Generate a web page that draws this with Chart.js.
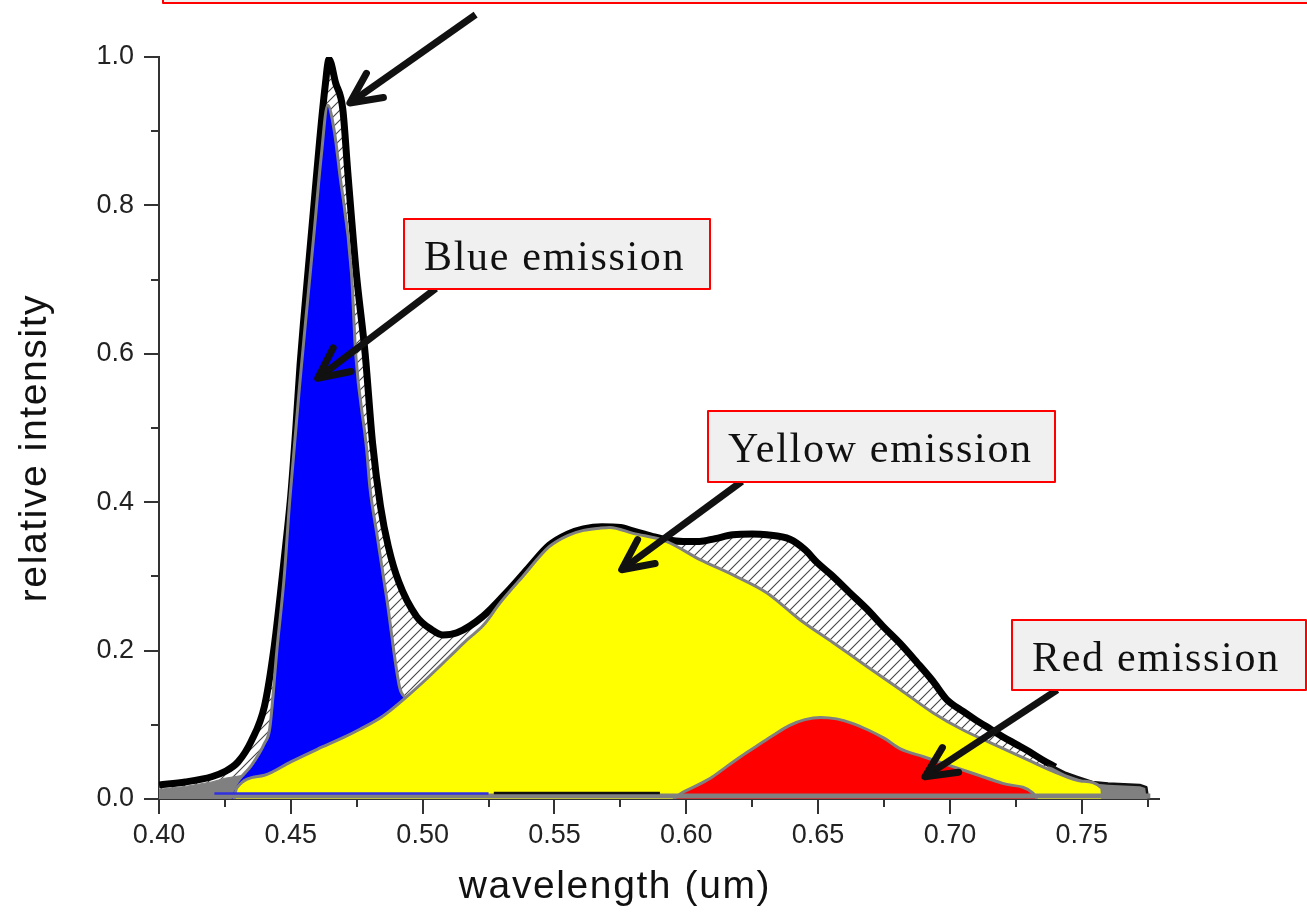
<!DOCTYPE html>
<html>
<head>
<meta charset="utf-8">
<title>Emission spectrum</title>
<script src="https://cdn.jsdelivr.net/npm/chart.js@4.4.1/dist/chart.umd.min.js"></script>
<style>
  html, body { margin: 0; padding: 0; background: #fff; }
  #spectrum { display: block; }
</style>
</head>
<body>
<canvas id="spectrum" width="1307" height="915"></canvas>
<script>
// axis ticks
const xTickValues = [0.40, 0.45, 0.50, 0.55, 0.60, 0.65, 0.70, 0.75];
const xMinorValues = [0.425, 0.475, 0.525, 0.575, 0.625, 0.675, 0.725, 0.775];
const yTickValues = [0.0, 0.2, 0.4, 0.6, 0.8, 1.0];
const yMinorValues = [0.1, 0.3, 0.5, 0.7, 0.9];

// measured spectrum (thick black)
const totalWl = [0.400, 0.410, 0.420, 0.425, 0.430, 0.435, 0.440, 0.4435, 0.446, 0.448, 0.450, 0.452, 0.4535, 0.455, 0.457, 0.459, 0.461, 0.463, 0.4645, 0.467, 0.4697, 0.4716, 0.4748, 0.4782, 0.481, 0.484, 0.487, 0.491, 0.4977, 0.5035, 0.5077, 0.513, 0.5228, 0.533, 0.540, 0.548, 0.555, 0.561, 0.568, 0.575, 0.580, 0.587, 0.593, 0.5988, 0.605, 0.611, 0.6177, 0.625, 0.6305, 0.6393, 0.645, 0.6495, 0.655, 0.662, 0.6685, 0.6748, 0.681, 0.6875, 0.6935, 0.6988, 0.705, 0.710, 0.715, 0.720, 0.725, 0.730, 0.735, 0.740];
const totalInt = [0.019, 0.023, 0.030, 0.037, 0.050, 0.078, 0.125, 0.200, 0.275, 0.340, 0.410, 0.505, 0.585, 0.650, 0.730, 0.810, 0.890, 0.960, 0.997, 0.965, 0.930, 0.845, 0.710, 0.600, 0.480, 0.395, 0.340, 0.292, 0.246, 0.228, 0.221, 0.224, 0.246, 0.283, 0.311, 0.342, 0.357, 0.364, 0.367, 0.366, 0.361, 0.354, 0.349, 0.347, 0.347, 0.351, 0.356, 0.357, 0.356, 0.350, 0.336, 0.319, 0.302, 0.278, 0.256, 0.232, 0.210, 0.184, 0.159, 0.134, 0.118, 0.106, 0.095, 0.084, 0.074, 0.064, 0.053, 0.043];

// blue peak, stacked on the yellow band
const blueWl = [0.4275, 0.4295, 0.435, 0.440, 0.442, 0.4447, 0.4475, 0.4496, 0.4534, 0.4564, 0.459, 0.4615, 0.464, 0.4665, 0.4685, 0.473, 0.4746, 0.4788, 0.480, 0.4826, 0.4864, 0.4913, 0.4935];
const blueTop = [0.008, 0.022, 0.045, 0.075, 0.095, 0.200, 0.300, 0.403, 0.560, 0.673, 0.770, 0.865, 0.935, 0.900, 0.844, 0.709, 0.600, 0.470, 0.420, 0.358, 0.270, 0.150, 0.136];

// yellow band
const yellowWl = [0.4285, 0.4295, 0.440, 0.450, 0.460, 0.470, 0.4762, 0.485, 0.494, 0.500, 0.5103, 0.517, 0.523, 0.5293, 0.538, 0.548, 0.555, 0.561, 0.5672, 0.571, 0.5798, 0.5926, 0.605, 0.6177, 0.6305, 0.643, 0.6556, 0.6684, 0.681, 0.6937, 0.705, 0.719, 0.730, 0.740, 0.750, 0.7575, 0.758];
const yellowInt = [0.000, 0.015, 0.032, 0.050, 0.067, 0.083, 0.094, 0.112, 0.138, 0.157, 0.192, 0.215, 0.234, 0.264, 0.300, 0.340, 0.355, 0.362, 0.365, 0.366, 0.358, 0.347, 0.323, 0.302, 0.278, 0.242, 0.211, 0.179, 0.148, 0.116, 0.093, 0.070, 0.052, 0.036, 0.024, 0.015, 0.000];

// red band
const redWl = [0.595, 0.5987, 0.605, 0.610, 0.6154, 0.621, 0.627, 0.633, 0.639, 0.645, 0.651, 0.657, 0.663, 0.669, 0.675, 0.681, 0.690, 0.700, 0.710, 0.720, 0.7315, 0.733];
const redInt = [0.000, 0.009, 0.020, 0.030, 0.044, 0.058, 0.072, 0.086, 0.099, 0.107, 0.110, 0.108, 0.102, 0.093, 0.082, 0.068, 0.057, 0.045, 0.033, 0.021, 0.008, 0.000];

// grey tails of the measured curve
const leftWingWl = [0.400, 0.410, 0.420, 0.425, 0.432];
const leftWingInt = [0.013, 0.017, 0.023, 0.028, 0.032];
const rightWingWl = [0.737, 0.739, 0.744, 0.748, 0.754, 0.760, 0.766, 0.772, 0.7745, 0.775];
const rightWingInt = [0.046, 0.044, 0.035, 0.030, 0.023, 0.021, 0.020, 0.019, 0.016, 0.003];

// fit baselines
const baseWl = [0.400, 0.776];
const baseInt = [0.004, 0.004];
const blueBaseWl = [0.421, 0.525];
const blueBaseInt = [0.0075, 0.0075];
const darkBaseWl = [0.527, 0.590];
const darkBaseInt = [0.008, 0.008];

const sans = '"Liberation Sans", Arial, sans-serif';
const serif = '"Liberation Serif", "Times New Roman", serif';

const labelBoxes = [
  { text: '', x: 163, y: -30, w: 1160, h: 33 },
  { text: 'Blue emission', x: 404, y: 219, w: 306, h: 70 },
  { text: 'Yellow emission', x: 708, y: 411, w: 347, h: 71 },
  { text: 'Red emission', x: 1012, y: 620, w: 294, h: 70 }
];
// arrows in data units: [wavelength, intensity]
const arrows = [
  { from: [0.5201, 1.057], to: [0.4724, 0.938] },
  { from: [0.5050, 0.688], to: [0.4602, 0.567] },
  { from: [0.6211, 0.428], to: [0.5755, 0.309] },
  { from: [0.7407, 0.147], to: [0.6905, 0.030] }
];

const pts = (xs, ys) => xs.map((x, i) => ({ x: x, y: ys[i] }));

function makeHatch() {
  const c = document.createElement('canvas');
  c.width = 10; c.height = 10;
  const g = c.getContext('2d');
  g.fillStyle = '#fff';
  g.fillRect(0, 0, 10, 10);
  g.strokeStyle = '#444';
  g.lineWidth = 1.1;
  g.beginPath();
  g.moveTo(-1, 11); g.lineTo(11, -1);
  g.moveTo(-6, 6); g.lineTo(6, -6);
  g.moveTo(4, 16); g.lineTo(16, 4);
  g.stroke();
  return g.createPattern(c, 'repeat');
}

const decor = {
  id: 'decor',
  afterDraw(chart) {
    const ctx = chart.ctx;
    const xs = chart.scales.x, ys = chart.scales.y;
    const area = chart.chartArea;
    ctx.save();

    // tick marks, pointing outward
    ctx.strokeStyle = '#333';
    ctx.lineWidth = 2;
    ctx.beginPath();
    xTickValues.forEach(v => { const px = Math.round(xs.getPixelForValue(v)); ctx.moveTo(px, area.bottom); ctx.lineTo(px, area.bottom + 15); });
    xMinorValues.forEach(v => { const px = Math.round(xs.getPixelForValue(v)); ctx.moveTo(px, area.bottom); ctx.lineTo(px, area.bottom + 8); });
    yTickValues.forEach(v => { const py = Math.round(ys.getPixelForValue(v)); ctx.moveTo(area.left, py); ctx.lineTo(area.left - 15, py); });
    yMinorValues.forEach(v => { const py = Math.round(ys.getPixelForValue(v)); ctx.moveTo(area.left, py); ctx.lineTo(area.left - 8, py); });
    ctx.stroke();

    // axis titles
    ctx.fillStyle = '#111';
    ctx.font = '39px ' + sans;
    ctx.letterSpacing = '1.6px';
    ctx.textAlign = 'center';
    ctx.textBaseline = 'alphabetic';
    ctx.fillText('wavelength (um)', 615, 898);
    ctx.save();
    ctx.translate(46, 448);
    ctx.rotate(-Math.PI / 2);
    ctx.fillText('relative intensity', 0, 0);
    ctx.restore();
    ctx.letterSpacing = '0px';

    // arrows
    ctx.strokeStyle = '#111';
    ctx.lineWidth = 7;
    arrows.forEach(a => {
      const x0 = xs.getPixelForValue(a.from[0]), y0 = ys.getPixelForValue(a.from[1]);
      const x1 = xs.getPixelForValue(a.to[0]), y1 = ys.getPixelForValue(a.to[1]);
      const ang = Math.atan2(y0 - y1, x0 - x1);
      ctx.lineCap = 'butt';
      ctx.beginPath();
      ctx.moveTo(x0, y0);
      ctx.lineTo(x1 + 3 * Math.cos(ang), y1 + 3 * Math.sin(ang));
      ctx.stroke();
      ctx.lineCap = 'round';
      ctx.lineJoin = 'round';
      ctx.beginPath();
      ctx.moveTo(x1 + 34 * Math.cos(ang - 0.45), y1 + 34 * Math.sin(ang - 0.45));
      ctx.lineTo(x1, y1);
      ctx.lineTo(x1 + 34 * Math.cos(ang + 0.45), y1 + 34 * Math.sin(ang + 0.45));
      ctx.stroke();
    });

    // label boxes
    ctx.font = '42px ' + serif;
    ctx.letterSpacing = '1.7px';
    ctx.textAlign = 'left';
    labelBoxes.forEach(b => {
      ctx.fillStyle = '#f0f0f0';
      ctx.fillRect(b.x, b.y, b.w, b.h);
      ctx.strokeStyle = '#ff0000';
      ctx.lineWidth = 2;
      ctx.strokeRect(b.x, b.y, b.w, b.h);
      if (b.text) {
        ctx.fillStyle = '#111';
        ctx.fillText(b.text, b.x + 20, b.y + 51);
      }
    });
    ctx.restore();
  }
};

const hatch = makeHatch();
const smooth = { cubicInterpolationMode: 'monotone' };

new Chart(document.getElementById('spectrum'), {
  type: 'line',
  data: {
    datasets: [
      { label: 'measured', data: pts(totalWl, totalInt), borderColor: '#000', borderWidth: 7, backgroundColor: hatch, fill: 'origin', order: 10, ...smooth },
      { label: 'left tail', data: pts(leftWingWl, leftWingInt), borderColor: '#808080', borderWidth: 1, backgroundColor: '#808080', fill: 'origin', order: 9 },
      { label: 'right tail', data: pts(rightWingWl, rightWingInt), borderColor: '#111', borderWidth: 2.5, backgroundColor: '#808080', fill: 'origin', order: 9 },
      { label: 'blue', data: pts(blueWl, blueTop), borderColor: '#808080', borderWidth: 3, backgroundColor: '#0000ff', fill: 'origin', order: 8, ...smooth },
      { label: 'yellow', data: pts(yellowWl, yellowInt), borderColor: '#808080', borderWidth: 3, backgroundColor: '#ffff00', fill: 'origin', order: 7, ...smooth },
      { label: 'red', data: pts(redWl, redInt), borderColor: '#808080', borderWidth: 3, backgroundColor: '#ff0000', fill: 'origin', order: 6, ...smooth },
      { label: 'baseline', data: pts(baseWl, baseInt), borderColor: '#808080', borderWidth: 5, fill: false, order: 5 },
      { label: 'blue baseline', data: pts(blueBaseWl, blueBaseInt), borderColor: '#3030e0', borderWidth: 2.5, fill: false, order: 4 },
      { label: 'dark baseline', data: pts(darkBaseWl, darkBaseInt), borderColor: '#111', borderWidth: 2.5, fill: false, order: 4 }
    ]
  },
  options: {
    responsive: false,
    animation: false,
    devicePixelRatio: 1,
    layout: { padding: { left: 0, top: 57, right: 148, bottom: 0 } },
    elements: {
      point: { radius: 0, hoverRadius: 0 },
      line: { tension: 0, borderJoinStyle: 'round' }
    },
    plugins: { legend: { display: false }, tooltip: { enabled: false } },
    scales: {
      x: {
        type: 'linear', min: 0.4, max: 0.7793,
        afterBuildTicks: s => { s.ticks = xTickValues.map(v => ({ value: v })); },
        afterFit: s => { s.height = 116; },
        grid: { display: false, drawTicks: false, tickLength: 0 },
        border: { display: true, color: '#333', width: 2 },
        ticks: { autoSkip: false, maxRotation: 0, padding: 20, color: '#222', font: { family: sans, size: 27 }, callback: v => v.toFixed(2) }
      },
      y: {
        type: 'linear', min: 0, max: 1,
        afterBuildTicks: s => { s.ticks = yTickValues.map(v => ({ value: v })); },
        afterFit: s => { s.width = 159; },
        grid: { display: false, drawTicks: false, tickLength: 0 },
        border: { display: true, color: '#333', width: 2 },
        ticks: { autoSkip: false, padding: 25, color: '#222', font: { family: sans, size: 27 }, callback: v => v.toFixed(1) }
      }
    }
  },
  plugins: [decor]
});
</script>
</body>
</html>
